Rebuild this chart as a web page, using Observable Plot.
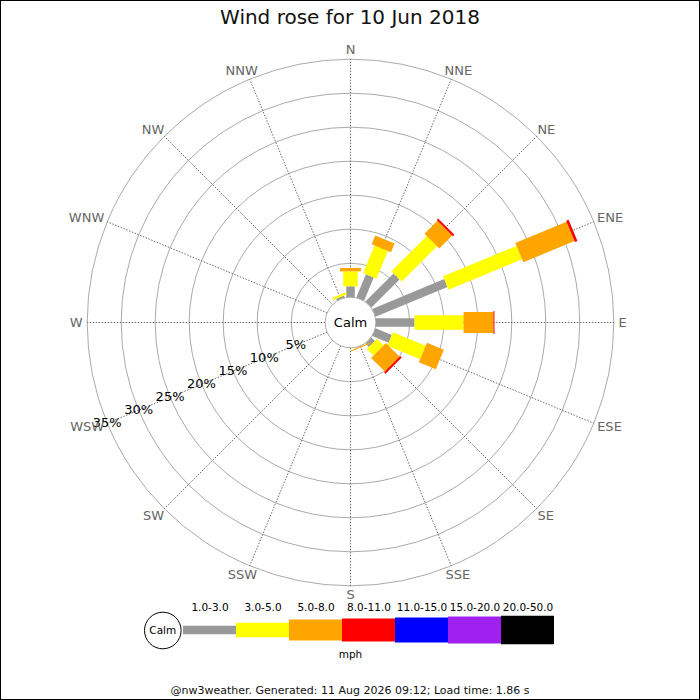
<!DOCTYPE html>
<html>
<head>
<meta charset="utf-8">
<script src="https://cdn.jsdelivr.net/npm/d3@7"></script>
<script src="https://cdn.jsdelivr.net/npm/@observablehq/plot@0.6"></script>
<style>
  html, body { margin: 0; padding: 0; background: #fff; }
  #wrap { position: relative; width: 700px; height: 700px; overflow: hidden; font-family: "DejaVu Sans", sans-serif; }
  #wrap > * { position: absolute; }
  #title { top: 5px; left: 0; width: 700px; text-align: center; font-size: 20px; line-height: 24px; color: #111; }
  #footer { top: 684px; left: 0; width: 700px; text-align: center; font-size: 11px; line-height: 13px; color: #111; }
  #border { left: 0; top: 0; width: 700px; height: 700px; box-sizing: border-box; border: 1px solid #000; pointer-events: none; }
</style>
</head>
<body>
<div id="wrap">
  <div id="main" style="left:0;top:0"></div>
  <div id="legend" style="left:0;top:595px"></div>
  <div id="title">Wind rose for 10 Jun 2018</div>
  <div id="footer">@nw3weather. Generated: 11 Aug 2026 09:12; Load time: 1.86 s</div>
  <div id="border"></div>
</div>
<script>
// ---- Data ----
const directions = ["N","NNE","NE","ENE","E","ESE","SE","SSE","S","SSW","SW","WSW","W","WNW","NW","NNW"];
const speedClasses = ["1.0-3.0","3.0-5.0","5.0-8.0","8.0-11.0","11.0-15.0","15.0-20.0","20.0-50.0"];
const speedColors = ["#999999","#ffff00","#ffa500","#ff0000","#0000ff","#a020f0","#000000"];
// percentage of time per direction, per speed class (mph)
const pct_1_3   = [1.6, 3.7, 5.85, 11.45, 5.7, 2.6, 0.75, 0.05, 0, 0, 0, 0, 0, 0, 0, 0.3];
const pct_3_5   = [2.2, 4.4, 7.35, 11.7, 7.2, 5.2, 1.35, 0.05, 0, 0, 0, 0, 0, 0, 0, 0.35];
const pct_5_8   = [0.5, 1.4, 2.7, 8.15, 4.4, 2.7, 2.85, 0.15, 0, 0, 0, 0, 0, 0, 0, 0];
const pct_8_11  = [0, 0, 0.3, 0.4, 0.15, 0, 0.3, 0, 0, 0, 0, 0, 0, 0, 0, 0];
const pct_11_15 = [0, 0, 0, 0, 0, 0, 0, 0, 0, 0, 0, 0, 0, 0, 0, 0];
const pct_15_20 = [0, 0, 0, 0, 0, 0, 0, 0, 0, 0, 0, 0, 0, 0, 0, 0];
const pct_20_50 = [0, 0, 0, 0, 0, 0, 0, 0, 0, 0, 0, 0, 0, 0, 0, 0];
const ringTicks = [5, 10, 15, 20, 25, 30, 35];
const centerLabel = "Calm";
const unitLabel = "mph";

// ---- Layout / style ----
const series = [pct_1_3, pct_3_5, pct_5_8, pct_8_11, pct_11_15, pct_15_20, pct_20_50];
const barWidths = [8.5, 14.5, 21, 23, 25, 27, 28.5];
const K = 6.8;            // px per percent
const C = 25.3 / K;       // calm circle radius in percent units
const W = 700, H = 600, CY = 322;
const rad = i => i * 22.5 * Math.PI / 180;
const font = "DejaVu Sans";

// stacked segments
const segments = [];
series.forEach((vals, j) => {
  vals.forEach((v, i) => {
    if (v <= 0) return;
    let before = 0;
    for (let k = 0; k < j; k++) before += series[k][i];
    segments.push({dir: directions[i], i, j, r0: C + before, r1: C + before + v});
  });
});

const charW = {N: 0.748, E: 0.632, S: 0.635, W: 0.989};
const textHalfWidth = s => 0.5 * 13 * [...s].reduce((a, c) => a + (charW[c] || 0.7), 0);
const LR = 268;
const labelX = (d, i) => (LR * Math.sin(rad(i)) + textHalfWidth(d) * Math.sin(rad(i))) / K;
const labelY = (d, i) => (LR * Math.cos(rad(i)) + 4.75 * Math.cos(rad(i))) / K;

const pctAngle = 247.5 * Math.PI / 180;

const main = Plot.plot({
  width: W, height: H,
  margin: 0,
  x: {domain: [-350 / K, 350 / K], axis: null},
  y: {domain: [-(H - CY) / K, CY / K], axis: null},
  r: {type: "linear", domain: [0, 1], range: [0, K]},
  color: {type: "identity"},
  style: {fontFamily: font, background: "transparent", overflow: "visible"},
  marks: [
    Plot.dot(ringTicks, {x: 0, y: 0, r: d => C + d, stroke: "#aaaaaa", strokeWidth: 1, fill: "none"}),
    Plot.link(directions, {
      x1: (d, i) => C * Math.sin(rad(i)), y1: (d, i) => C * Math.cos(rad(i)),
      x2: (d, i) => (C + 35) * Math.sin(rad(i)), y2: (d, i) => (C + 35) * Math.cos(rad(i)),
      stroke: "#444", strokeWidth: 0.8, strokeDasharray: "1.5,1.5"
    }),
    Plot.link(segments, {
      x1: d => d.r0 * Math.sin(rad(d.i)), y1: d => d.r0 * Math.cos(rad(d.i)),
      x2: d => d.r1 * Math.sin(rad(d.i)), y2: d => d.r1 * Math.cos(rad(d.i)),
      stroke: d => speedColors[d.j], strokeWidth: d => barWidths[d.j],
      strokeLinecap: "butt", strokeOpacity: 1
    }),
    Plot.dot([C], {x: 0, y: 0, r: d => d, fill: "white", stroke: "#aaaaaa", strokeWidth: 1}),
    Plot.text([centerLabel], {x: 0, y: 0, text: d => d, fontSize: 13, fill: "#000"}),
    Plot.text(ringTicks, {
      x: d => (C + d) * Math.sin(pctAngle), y: d => (C + d) * Math.cos(pctAngle),
      text: d => d + "%", fontSize: 13, fill: "#000"
    }),
    Plot.text(directions, {x: labelX, y: labelY, text: d => d, fontSize: 13, fill: "#666"})
  ]
});
document.getElementById("main").appendChild(main);

const legend = Plot.plot({
  width: W, height: 70,
  margin: 0,
  x: {type: "band", domain: speedClasses, range: [180.7, 556], padding: 0, axis: null},
  y: {domain: [-35, 35], range: [70, 0], axis: null},
  color: {type: "identity"},
  style: {fontFamily: font, background: "transparent", overflow: "visible"},
  marks: [
    Plot.barY(speedClasses, {
      x: d => d,
      y1: (d, i) => -barWidths[i] / 2, y2: (d, i) => barWidths[i] / 2,
      fill: (d, i) => speedColors[i]
    }),
    Plot.text(speedClasses, {x: d => d, y: 23, text: d => d, fontSize: 10.5, fill: "#000"}),
    Plot.dot([centerLabel], {frameAnchor: "left", dx: 162.3, r: 18.3, stroke: "#000", fill: "white", strokeWidth: 1}),
    Plot.text([centerLabel], {frameAnchor: "left", dx: 162.3, textAnchor: "middle", text: d => d, fontSize: 10.5, fill: "#000"}),
    Plot.text([unitLabel], {frameAnchor: "middle", dy: 24, text: d => d, fontSize: 10.5, fill: "#000"})
  ]
});
document.getElementById("legend").appendChild(legend);
</script>
</body>
</html>
